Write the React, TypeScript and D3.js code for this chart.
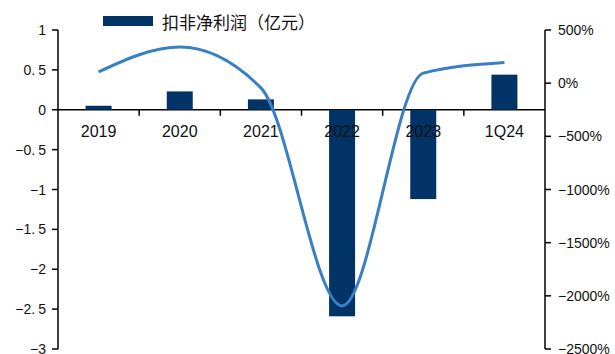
import React from "react";
import * as d3 from "d3";

const categories = ["2019", "2020", "2021", "2022", "2023", "1Q24"];
const profit = [0.05, 0.23, 0.13, -2.59, -1.12, 0.44];
const growth = [106, 340, -44, -2095, 94, 195];
const leftTicks = [1, 0.5, 0, -0.5, -1, -1.5, -2, -2.5, -3];
const rightTicks = [500, 0, -500, -1000, -1500, -2000, -2500];
const legendLabel = "扣非净利润（亿元）";

const W = 615;
const H = 354;
const X0 = 58;
const X1 = 545;
const YT = 30;
const YB = 349;

const fmtLeft = (v: number) => {
  const s = String(Math.abs(v));
  const sign = v < 0 ? "\u2212" : "";
  const parts = s.split(".");
  return { sign, int: parts[0], frac: parts[1] };
};

export default function App() {
  const x = d3.scaleBand<string>().domain(categories).range([X0, X1]).padding(0);
  const yL = d3.scaleLinear().domain([-3, 1]).range([YB, YT]);
  const yR = d3.scaleLinear().domain([-2500, 500]).range([YB, YT]);
  const bw = 26;
  const cx = (c: string) => (x(c) as number) + x.bandwidth() / 2;

  const line = d3
    .line<number>()
    .x((_, i) => cx(categories[i]))
    .y((d) => yR(d))
    .curve(d3.curveMonotoneX);

  const barColor = "#023366";
  const lineColor = "#3a7fc3";
  const font = "Arial, 'Liberation Sans', sans-serif";

  return (
    <svg
      width={W}
      height={H}
      style={{ position: "absolute", left: 0, top: 0, background: "#fff" }}
      fontFamily={font}
    >
      {/* legend */}
      <rect x={103} y={16} width={50} height={10} fill={barColor} />
      <text
        x={162}
        y={21}
        dominantBaseline="central"
        fontSize={17}
        fontFamily="'Noto Sans CJK SC', sans-serif"
        fill="#111"
      >
        {legendLabel}
      </text>

      {/* left axis */}
      <line x1={X0} x2={X0} y1={YT} y2={YB} stroke="#000" strokeWidth={1.5} />
      {leftTicks.map((t) => {
        const f = fmtLeft(t);
        return (
          <g key={"l" + t}>
            <line x1={X0 - 6} x2={X0} y1={yL(t)} y2={yL(t)} stroke="#000" strokeWidth={1.5} />
            <text
              x={X0 - 12}
              y={yL(t)}
              textAnchor="end"
              dominantBaseline="central"
              fontSize={14}
              fill="#111"
            >
              {f.sign + f.int}
              {f.frac !== undefined ? (
                <>
                  {"."}
                  <tspan dx={3}>{f.frac}</tspan>
                </>
              ) : null}
            </text>
          </g>
        );
      })}

      {/* right axis */}
      <line x1={X1} x2={X1} y1={YT} y2={YB} stroke="#000" strokeWidth={1.5} />
      {rightTicks.map((t) => (
        <g key={"r" + t}>
          <line x1={X1} x2={X1 + 6} y1={yR(t)} y2={yR(t)} stroke="#000" strokeWidth={1.5} />
          <text
            x={X1 + 13}
            y={yR(t)}
            dominantBaseline="central"
            fontSize={14}
            fill="#111"
          >
            {(t < 0 ? "\u2212" : "") + Math.abs(t) + "%"}
          </text>
        </g>
      ))}

      {/* x axis */}
      <line x1={X0} x2={X1} y1={yL(0)} y2={yL(0)} stroke="#000" strokeWidth={1.5} />
      {categories.map((c, i) =>
        i > 0 ? (
          <line
            key={"t" + c}
            x1={x(c) as number}
            x2={x(c) as number}
            y1={yL(0)}
            y2={yL(0) + 6}
            stroke="#000"
            strokeWidth={1.5}
          />
        ) : null
      )}

      {/* bars */}
      {categories.map((c, i) => (
        <rect
          key={"b" + c}
          x={cx(c) - bw / 2}
          y={Math.min(yL(0), yL(profit[i]))}
          width={bw}
          height={Math.abs(yL(profit[i]) - yL(0))}
          fill={barColor}
        />
      ))}

      {/* x labels */}
      {categories.map((c) => (
        <text
          key={"x" + c}
          x={cx(c)}
          y={yL(0) + 22}
          textAnchor="middle"
          dominantBaseline="central"
          fontSize={16}
          fill="#111"
        >
          {c}
        </text>
      ))}

      {/* growth line */}
      <path d={line(growth) || ""} fill="none" stroke={lineColor} strokeWidth={3} />
    </svg>
  );
}
